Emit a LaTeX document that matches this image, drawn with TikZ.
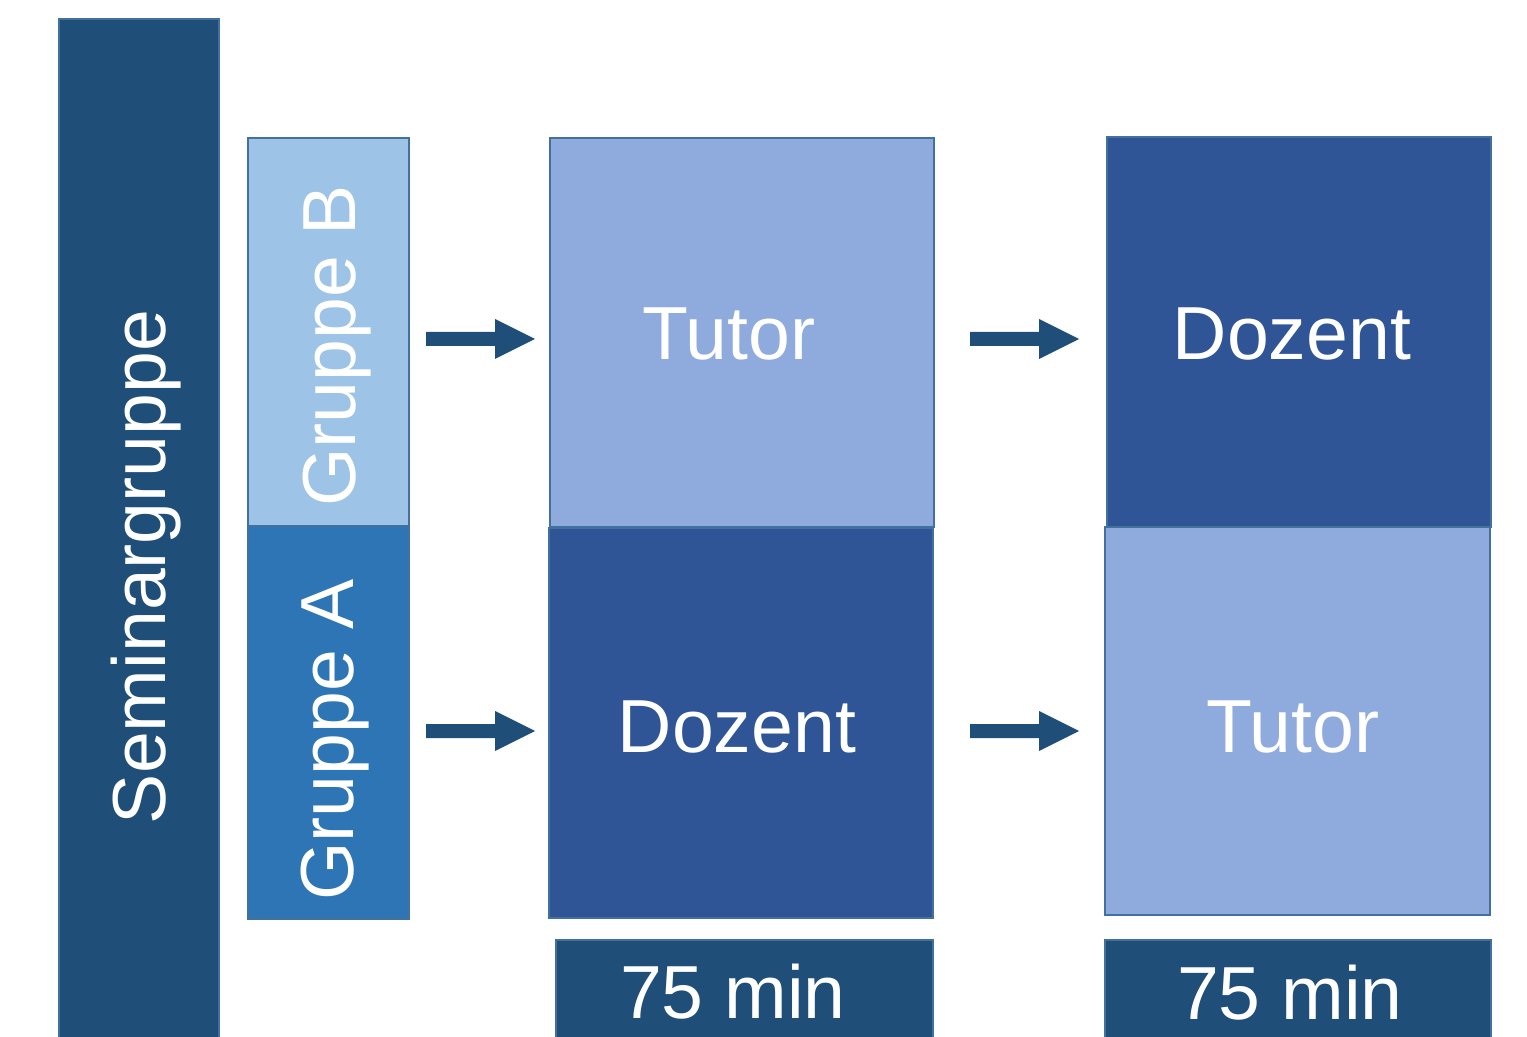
\documentclass[tikz,border=0pt]{standalone}
\usepackage{fontspec}
\setmainfont{Liberation Sans}
\definecolor{navy}{HTML}{1F4E79}
\definecolor{edge}{HTML}{41719C}
\definecolor{grpB}{HTML}{9DC3E6}
\definecolor{grpA}{HTML}{2E75B6}
\definecolor{tutc}{HTML}{8FAADC}
\definecolor{dozc}{HTML}{2F5597}
\begin{document}
\begin{tikzpicture}[x=0.5pt,y=-0.5pt,
  box/.style={draw=edge,line width=1pt},
  lbl/.style={text=white,font=\fontsize{37.6}{41}\selectfont,inner sep=0pt,anchor=base},
  blockarrow/.style={fill=navy}]
\useasboundingbox (0,0) rectangle (1527,1037);
\clip (0,0) rectangle (1527,1037);
% boxes
\draw[box,fill=navy] (59,19) rectangle (219,1060);
\draw[box,fill=grpA] (248,526) rectangle (409,919);
\draw[box,fill=grpB] (248,138) rectangle (409,526);
\draw[box,fill=dozc] (549,528) rectangle (933,918);
\draw[box,fill=tutc] (550,138) rectangle (934,527);
\draw[box,fill=tutc] (1105,527) rectangle (1490,915);
\draw[box,fill=dozc] (1107,137) rectangle (1491,527);
\draw[box,fill=navy] (556,940) rectangle (933,1060);
\draw[box,fill=navy] (1105,940) rectangle (1491,1060);
% labels
\node[lbl,rotate=90] (sem) at (165,567) {Seminargruppe};
\node[lbl,rotate=90] (gb) at (355,346) {Gruppe B};
\node[lbl,rotate=90] (ga) at (353,740) {Gruppe A};
\node[lbl] (t1) at (729,360) {Tutor};
\node[lbl] (d1) at (1292,360) {Dozent};
\node[lbl] (d2) at (737,752) {Dozent};
\node[lbl] (t2) at (1293,752) {Tutor};
\node[lbl] (m1) at (733,1018) {75 min};
\node[lbl] (m2) at (1290,1019) {75 min};
% block arrows
\foreach \x/\y in {426/339, 970/339, 426/731, 970/731}{
  \fill[blockarrow] (\x,\y-7) -- (\x+69,\y-7) -- (\x+69,\y-20) -- (\x+109,\y)
    -- (\x+69,\y+20) -- (\x+69,\y+7) -- (\x,\y+7) -- cycle;
}
\end{tikzpicture}
\end{document}
